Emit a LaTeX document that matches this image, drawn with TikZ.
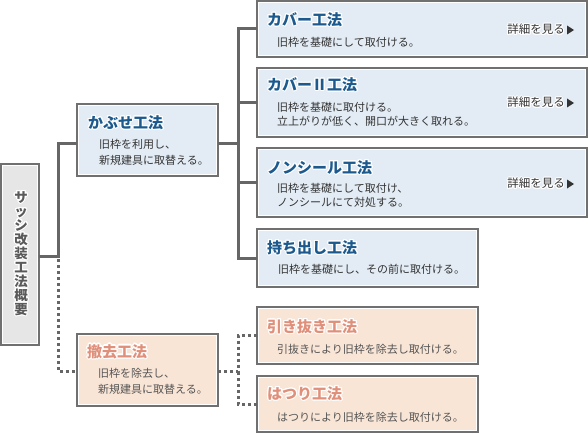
\documentclass[tikz,border=0pt]{standalone}
\usepackage{fontspec}
\setmainfont{Noto Sans CJK JP}
\usepackage{contour}
\contourlength{1.1pt}
\definecolor{boxgray}{HTML}{707070}
\definecolor{linegray}{HTML}{666666}
\definecolor{bluefill}{HTML}{E3ECF5}
\definecolor{peachfill}{HTML}{F9E5D6}
\definecolor{grayfill}{HTML}{E6E6E6}
\definecolor{bluetitle}{HTML}{1C5A8E}
\definecolor{peachtitle}{HTML}{E0907A}
\definecolor{bodytext}{HTML}{333333}
\definecolor{peachbody}{HTML}{555555}
\definecolor{sidetext}{HTML}{5A5A5A}
\tikzset{
  panel/.style={draw=boxgray, line width=1.2pt, fill=white, inner sep=0pt, outer sep=0pt,
    path picture={\fill[#1] ([shift={(2.2pt,-2.2pt)}]path picture bounding box.north west)
      rectangle ([shift={(-2.2pt,2.2pt)}]path picture bounding box.south east);}},
  conn/.style={draw=linegray, line width=3pt},
  dotconn/.style={draw=linegray, line width=3pt, dash pattern=on 3pt off 3pt},
  titleblue/.style={anchor=west, inner sep=0pt, font=\fontsize{15}{15}\selectfont\bfseries, text=bluetitle},
  titlepeach/.style={anchor=west, inner sep=0pt, font=\fontsize{15}{15}\selectfont\bfseries, text=peachtitle},
  bodyblue/.style={anchor=west, inner sep=0pt, align=left, text=bodytext},
  bodypeach/.style={anchor=west, inner sep=0pt, align=left, text=peachbody},
  detail/.style={anchor=east, inner sep=0pt, font=\fontsize{11.5}{12}\selectfont, text=bodytext},
  tri/.style={fill=bodytext},
}
\begin{document}
\begin{tikzpicture}[x=1pt,y=-1pt]
\useasboundingbox (0,0) rectangle (588,433);
% boxes
\node[panel=grayfill, minimum width=38pt, minimum height=181pt] (summary) at (20,254.5) {};
\node[panel=bluefill, minimum width=141pt, minimum height=72pt] (kabuse) at (147.5,140) {};
\node[panel=bluefill, minimum width=330pt, minimum height=56pt] (cover) at (422,29) {};
\node[panel=bluefill, minimum width=330pt, minimum height=69pt] (cover2) at (422,102.5) {};
\node[panel=bluefill, minimum width=330pt, minimum height=69pt] (nonseal) at (422,182.5) {};
\node[panel=bluefill, minimum width=221pt, minimum height=58pt] (mochi) at (367.5,258) {};
\node[panel=peachfill, minimum width=141pt, minimum height=72pt] (tekkyo) at (147.5,370) {};
\node[panel=peachfill, minimum width=221pt, minimum height=57pt] (hiki) at (367.5,335.5) {};
\node[panel=peachfill, minimum width=221pt, minimum height=56pt] (hatsuri) at (367.5,404) {};
% side title
\node[inner sep=0pt, align=center, text=sidetext, font=\fontsize{13.5}{14}\selectfont\bfseries] (sidetitle) at (21,254)
  {\contour{white}{サ}\\\contour{white}{ッ}\\\contour{white}{シ}\\\contour{white}{改}\\\contour{white}{装}\\\contour{white}{工}\\\contour{white}{法}\\\contour{white}{概}\\\contour{white}{要}};
% titles
\node[titleblue] (t1) at (88,123) {\contour{white}{かぶせ工法}};
\node[titleblue] (t2) at (267,20) {\contour{white}{カバー工法}};
\node[titleblue] (t3) at (267,85) {\contour{white}{カバーⅡ工法}};
\node[titleblue] (t4) at (267,168) {\contour{white}{ノンシール工法}};
\node[titleblue] (t5) at (267,248) {\contour{white}{持ち出し工法}};
\node[titlepeach] (t6) at (87,352) {\contour{white}{撤去工法}};
\node[titlepeach] (t7) at (267,327) {\contour{white}{引き抜き工法}};
\node[titlepeach] (t8) at (267,394) {\contour{white}{はつり工法}};
% bodies
\node[bodyblue, font=\fontsize{11}{16}\selectfont] (b1) at (99,152) {旧枠を利用し、\\新規建具に取替える。};
\node[bodyblue, font=\fontsize{11}{16}\selectfont] (b2) at (277,42) {旧枠を基礎にして取付ける。};
\node[bodyblue, font=\fontsize{11}{13.5}\selectfont] (b3) at (277,114.5) {旧枠を基礎に取付ける。\\立上がりが低く、開口が大きく取れる。};
\node[bodyblue, font=\fontsize{11}{14}\selectfont] (b4) at (277,195) {旧枠を基礎にして取付け、\\ノンシールにて対処する。};
\node[bodyblue, font=\fontsize{11}{16}\selectfont] (b5) at (278,269) {旧枠を基礎にし、その前に取付ける。};
\node[bodypeach, font=\fontsize{11}{16}\selectfont] (b6) at (98,381) {旧枠を除去し、\\新規建具に取替える。};
\node[bodypeach, font=\fontsize{11}{16}\selectfont] (b7) at (277,349) {引抜きにより旧枠を除去し取付ける。};
\node[bodypeach, font=\fontsize{11}{16}\selectfont] (b8) at (277,417) {はつりにより旧枠を除去し取付ける。};
% detail links
\node[detail] (d1) at (565,30) {\contour{white}{詳細を見る}};
\node[detail] (d2) at (565,103) {\contour{white}{詳細を見る}};
\node[detail] (d3) at (565,184) {\contour{white}{詳細を見る}};
\foreach \d in {d1,d2,d3}{
  \fill[tri] ([shift={(2pt,-4.5pt)}]\d.east) -- ([shift={(9pt,0pt)}]\d.east) -- ([shift={(2pt,4.5pt)}]\d.east) -- cycle;
}
% connectors
\coordinate (j1) at (58,256);
\coordinate (j1top) at (58,143);
\coordinate (j1bot) at (58,371);
\coordinate (j2) at (238,143);
\coordinate (j3) at (238,371);
\draw[conn] (summary.east |- j1) -- (j1) -- (j1top) -- (kabuse.west |- j1top);
\draw[dotconn] ([yshift=3pt]j1) -- (j1bot) -- (tekkyo.west |- j1bot);
\draw[conn] (kabuse.east |- j2) -- (j2);
\draw[conn] (cover.west) -| (j2);
\draw[conn] (mochi.west) -| (j2);
\draw[conn] (cover2.west) -- (cover2.west -| j2);
\draw[conn] (nonseal.west) -- (nonseal.west -| j2);
\draw[dotconn] (tekkyo.east |- j3) -- (j3);
\draw[dotconn] (hiki.west) -| (j3);
\draw[dotconn] (hatsuri.west) -| (j3);
\end{tikzpicture}
\end{document}
